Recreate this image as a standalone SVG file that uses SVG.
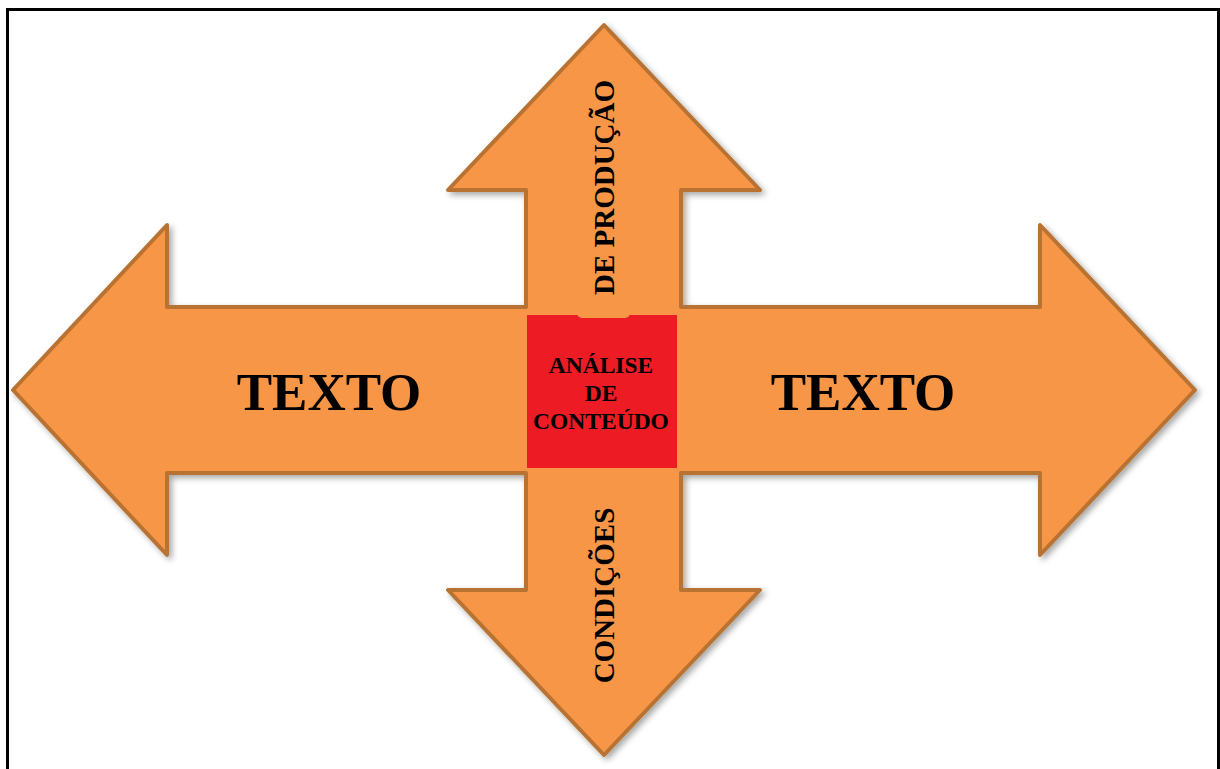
<svg xmlns="http://www.w3.org/2000/svg" width="1220" height="769" viewBox="0 0 1220 769">
  <defs>
    <filter id="shadow" x="-5%" y="-5%" width="110%" height="110%">
      <feDropShadow dx="3" dy="3" stdDeviation="3" flood-color="#000" flood-opacity="0.35"/>
    </filter>
    <style>
      .arrow { fill: #F79646; stroke: #B87333; stroke-width: 4; stroke-linejoin: round; }
      .lbl { font-family: "Liberation Serif", "Times New Roman", serif; font-weight: bold; fill: #000; }
      .big { font-size: 53px; text-anchor: middle; }
      .mid { font-size: 23.5px; text-anchor: middle; }
      .vert { font-size: 29px; text-anchor: middle; }
    </style>
  </defs>
  <rect width="1220" height="769" fill="#fff"/>
  <path d="M7.5,769 V9.5 H1218.5 V769" fill="none" stroke="#000" stroke-width="3"/>

  <g id="cross-arrows">
    <path class="arrow" filter="url(#shadow)" d="M604,25 L760,190 L681,190 L681,307 L1040,307 L1040,225 L1195,390 L1040,555 L1040,473 L681,473 L681,590 L760,590 L604,755 L448,590 L526,590 L526,473 L167,473 L167,555 L13,390 L167,225 L167,307 L526,307 L526,190 L448,190 Z"/>
  </g>

  <g id="center-node">
    <rect x="527" y="315" width="150" height="153" fill="#ED1C24"/>
    <rect x="577" y="306" width="53" height="12" rx="5" fill="#F79646"/>
    <text class="lbl mid" x="601" y="373">ANÁLISE</text>
    <text class="lbl mid" x="601" y="401">DE</text>
    <text class="lbl mid" x="601" y="429">CONTEÚDO</text>
  </g>

  <g id="left-node">
    <text class="lbl big" x="329" y="410">TEXTO</text>
  </g>
  <g id="right-node">
    <text class="lbl big" x="863" y="410">TEXTO</text>
  </g>
  <g id="up-node">
    <text class="lbl vert" transform="translate(614,187.5) rotate(-90)" x="0" y="0">DE PRODUÇÃO</text>
  </g>
  <g id="down-node">
    <text class="lbl vert" transform="translate(614,595.5) rotate(-90)" x="0" y="0">CONDIÇÕES</text>
  </g>
</svg>
